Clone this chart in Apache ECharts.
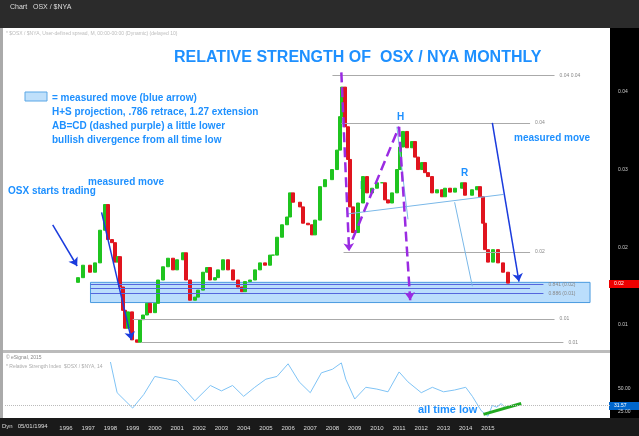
<!DOCTYPE html><html><head><meta charset="utf-8">
<script src="https://cdn.jsdelivr.net/npm/echarts@6/dist/echarts.min.js"></script>
<style>html,body{margin:0;background:#fff}#c{width:639px;height:436px}</style></head><body><div id="c"></div>
<script>
const yearsDec=[1996.54,1996.77,1997.08,1997.31,1997.53,1997.76,1997.89,1998.07,1998.21,1998.34,1998.43,1998.57,1998.66,1998.79,1998.97,1999.20,1999.33,1999.47,1999.65,1999.78,2000.01,2000.14,2000.37,2000.59,2000.82,2001.00,2001.27,2001.41,2001.59,2001.81,2001.95,2002.17,2002.35,2002.49,2002.71,2002.85,2003.07,2003.30,2003.52,2003.75,2003.93,2004.06,2004.29,2004.51,2004.74,2004.96,2005.19,2005.32,2005.50,2005.73,2005.95,2006.09,2006.23,2006.54,2006.68,2006.90,2007.08,2007.22,2007.44,2007.67,2007.98,2008.21,2008.34,2008.43,2008.57,2008.70,2008.79,2008.93,2009.15,2009.38,2009.56,2009.78,2010.01,2010.23,2010.37,2010.50,2010.68,2010.91,2011.05,2011.18,2011.36,2011.59,2011.72,2011.86,2012.04,2012.17,2012.31,2012.49,2012.71,2012.94,2013.07,2013.30,2013.52,2013.84,2013.97,2014.29,2014.51,2014.65,2014.78,2014.87,2015.01,2015.23,2015.46,2015.68,2015.91];
const closes=[.0161,.0177,.0168,.0180,.0222,.0255,.0210,.0206,.0181,.0188,.0149,.0119,.0096,.0117,.0081,.0078,.0107,.0113,.0128,.0116,.0128,.0158,.0175,.0186,.0171,.0184,.0193,.0158,.0132,.0136,.0145,.0168,.0174,.0158,.0161,.0171,.0184,.0171,.0158,.0149,.0143,.0156,.0158,.0171,.0180,.0177,.0190,.0190,.0213,.0229,.0239,.0270,.0258,.0252,.0231,.0229,.0216,.0235,.0278,.0287,.0300,.0325,.0368,.0406,.0355,.0313,.0252,.0219,.0257,.0291,.0270,.0276,.0283,.0283,.0261,.0257,.0270,.0300,.0329,.0349,.0328,.0336,.0316,.0300,.0309,.0296,.0291,.0270,.0274,.0265,.0276,.0271,.0276,.0283,.0267,.0274,.0278,.0265,.0231,.0197,.0181,.0197,.0180,.0168,.0154];
const rsiYears=[1998.0,1998.3,1999.0,1999.5,2000.0,2001.0,2001.8,2002.5,2003.0,2003.5,2004.0,2004.5,2005.0,2005.5,2006.0,2006.5,2007.0,2007.5,2008.0,2008.4,2008.6,2009.0,2009.5,2010.0,2010.5,2011.0,2011.4,2012.0,2012.5,2013.0,2013.5,2014.0,2014.3,2014.7,2015.0,2015.2,2015.4,2015.6,2015.8];
const rsi=[80,46,29,44,64,59,37,54,48,54,42,52,61,64,78,58,46,68,72,79,61,39,52,50,47,69,58,46,52,47,49,52,42,26,20,32,30,34,29];
const yTicks=[0.01,0.02,0.03,0.04];
const rsiTicks=[25,50];
const blue='#1e90ff';
const YR=864e5*365.25;
const t=y=>Date.UTC(Math.floor(y),0,1)+(y-Math.floor(y))*YR;
const candles=closes.map((c,i)=>{const o=i?closes[i-1]:0.0155;return [t(yearsDec[i]),o,c,Math.min(o,c),Math.max(o,c)];});
const ch=echarts.init(document.getElementById('c'));
const L=(name,a,b,col,w,type,arrow)=>[{name:name,coord:[t(a[0]),a[1]],lineStyle:{color:col,width:w,type:type||'solid'},symbol:'none'},{coord:[t(b[0]),b[1]],symbol:arrow?'arrow':'none',symbolSize:8}];
const TB=t(1993.25),TE=t(2020.5);
ch.setOption({animation:false,
grid:[{left:5,right:29,top:28,bottom:86},{left:5,right:29,top:362,bottom:18}],
xAxis:[{type:'time',gridIndex:0,min:TB,max:TE,axisLabel:{show:false},axisTick:{show:false},axisLine:{show:false},splitLine:{show:false}},
{type:'time',gridIndex:1,min:TB,max:TE,minInterval:YR*0.99,maxInterval:YR*1.01,axisLine:{show:false},axisTick:{show:false},splitLine:{show:false},
 axisLabel:{color:'#ddd',fontSize:6,margin:7,showMinLabel:false,showMaxLabel:false,formatter:v=>{const y=new Date(v).getFullYear();return y>=1996&&y<=2015?String(y):'';}}}],
yAxis:[{type:'value',gridIndex:0,position:'right',min:0.0068,max:0.0482,splitLine:{show:false},axisLine:{show:false},axisTick:{show:false},
 axisLabel:{color:'#ccc',fontSize:5,margin:8,customValues:yTicks,formatter:v=>v.toFixed(2)}},
{type:'value',gridIndex:1,position:'right',min:18,max:80,splitLine:{show:false},axisLine:{show:false},axisTick:{show:false},axisLabel:{color:'#ccc',fontSize:5,margin:8,customValues:rsiTicks,formatter:v=>v.toFixed(2)}}],
graphic:[
{type:'rect',shape:{x:0,y:0,width:639,height:28},style:{fill:'#2b2b2b'}},
{type:'rect',shape:{x:610,y:28,width:29,height:408},style:{fill:'#000'}},
{type:'rect',shape:{x:0,y:418,width:639,height:18},style:{fill:'#1a1a1a'}},
{type:'rect',shape:{x:0,y:350,width:610,height:3},style:{fill:'#bbb'}},
{type:'rect',shape:{x:0,y:28,width:3,height:390},style:{fill:'#aaa'}},
{type:'text',x:10,y:4,style:{text:'Chart   OSX / $NYA',fill:'#ddd',fontSize:7}},
{type:'text',x:6,y:31,style:{text:'* $OSX / $NYA, User-defined spread, M, 00:00-00:00 (Dynamic) (delayed 10)',fill:'#bbb',fontSize:5}},
{type:'text',x:6,y:355,style:{text:'© eSignal, 2015',fill:'#888',fontSize:5}},
{type:'text',x:6,y:364,style:{text:'* Relative Strength Index  $OSX / $NYA, 14',fill:'#aaa',fontSize:5}},
{type:'rect',shape:{x:609,y:280,width:30,height:8},style:{fill:'#e00'}},
{type:'text',x:614,y:281,style:{text:'0.02',fill:'#fff',fontSize:5}},
{type:'rect',shape:{x:609,y:402,width:30,height:8},style:{fill:'#06c'}},
{type:'text',x:614,y:403,style:{text:'31.57',fill:'#fff',fontSize:5}},
{type:'text',x:174,y:50,style:{text:'RELATIVE STRENGTH OF  OSX / NYA MONTHLY',fill:blue,font:'bold 16px Liberation Sans'}},
{type:'rect',shape:{x:25,y:92,width:22,height:9},style:{fill:'#bfe0fb',stroke:'#5aa7e6'}},
{type:'text',x:52,y:91,style:{text:'= measured move (blue arrow)\nH+S projection, .786 retrace, 1.27 extension\nAB=CD (dashed purple) a little lower\nbullish divergence from all time low',fill:blue,font:'bold 10px Liberation Sans',lineHeight:14}},
{type:'text',x:8,y:186,style:{text:'OSX starts trading',fill:blue,font:'bold 10px Liberation Sans'}},
{type:'text',x:88,y:177,style:{text:'measured move',fill:blue,font:'bold 10px Liberation Sans'}},
{type:'text',x:514,y:133,style:{text:'measured move',fill:blue,font:'bold 10px Liberation Sans'}},
{type:'text',x:360,y:181,style:{text:'L',fill:blue,font:'bold 10px Liberation Sans'}},
{type:'text',x:397,y:112,style:{text:'H',fill:blue,font:'bold 10px Liberation Sans'}},
{type:'text',x:461,y:168,style:{text:'R',fill:blue,font:'bold 10px Liberation Sans'}},
{type:'text',x:418,y:404,style:{text:'all time low',fill:blue,font:'bold 11px Liberation Sans'}},
{type:'text',x:2,y:423,style:{text:'Dyn   05/01/1994',fill:'#ddd',fontSize:6}}
],
series:[
{type:'candlestick',xAxisIndex:0,yAxisIndex:0,data:candles,barWidth:3,
 itemStyle:{color:'#1fc41f',color0:'#e0141e',borderColor:'#1fc41f',borderColor0:'#e0141e'},
 markArea:{silent:true,itemStyle:{color:'rgba(120,190,250,0.5)',borderColor:'#4a9be0',borderWidth:1},data:[[{coord:[t(1997.1),0.0155]},{coord:[t(2019.6),0.0129]}]]},
 markLine:{silent:true,symbol:'none',lineStyle:{type:'solid'},label:{show:true,position:'end',fontSize:5,color:'#888',formatter:p=>p.name},
 data:[
  L('0.04 0.04',[2008.0,0.0421],[2018.0,0.0421],'#aaa',1),
  L('0.04',[2008.4,0.0360],[2016.9,0.0360],'#aaa',1),
  L('0.02',[2008.5,0.0194],[2016.9,0.0194],'#aaa',1),
  L('0.01',[1999.0,0.0108],[2018.0,0.0108],'#aaa',1),
  L('0.01',[1999.4,0.0078],[2018.4,0.0078],'#aaa',1),
  L('0.841 (0.02)',[1997.1,0.0152],[2017.5,0.0152],'#5566dd',1),
  L('',[1997.1,0.0148],[2016.9,0.0148],'#5566dd',1),
  L('0.886 (0.01)',[1997.1,0.0141],[2017.5,0.0141],'#5566dd',1),
  L('',[2008.7,0.0243],[2015.7,0.0268],'#7ab8e8',1),
  L('',[2010.9,0.0355],[2011.4,0.0236],'#7ab8e8',1),
  L('',[2013.5,0.0258],[2014.3,0.0150],'#7ab8e8',1),
  L('',[1995.4,0.0229],[1996.5,0.0176],'#1a3bdd',1.5,'solid',true),
  L('',[1997.6,0.0245],[1998.95,0.0081],'#1a3bdd',1.5,'solid',true),
  L('',[2015.2,0.0360],[2016.4,0.0156],'#1a3bdd',1.5,'solid',true),
  L('',[2008.4,0.0425],[2008.75,0.0195],'#9a2be2',2.5,'dashed',true),
  L('',[2008.9,0.0210],[2011.0,0.0355],'#9a2be2',2.5,'dashed',false),
  L('',[2011.0,0.0355],[2011.5,0.0132],'#9a2be2',2.5,'dashed',true)
 ]}},
{type:'line',xAxisIndex:1,yAxisIndex:1,data:rsiYears.map((y,i)=>[t(y),rsi[i]]),showSymbol:false,clip:true,lineStyle:{color:'#7fc3f5',width:1},
 markLine:{silent:true,symbol:'none',label:{show:false},data:[
  L('',[2014.8,22],[2016.5,34],'#22aa22',3),
  {yAxis:31.57,lineStyle:{color:'#bbb',type:'dotted',width:1}}]}}
]});
</script></body></html>
